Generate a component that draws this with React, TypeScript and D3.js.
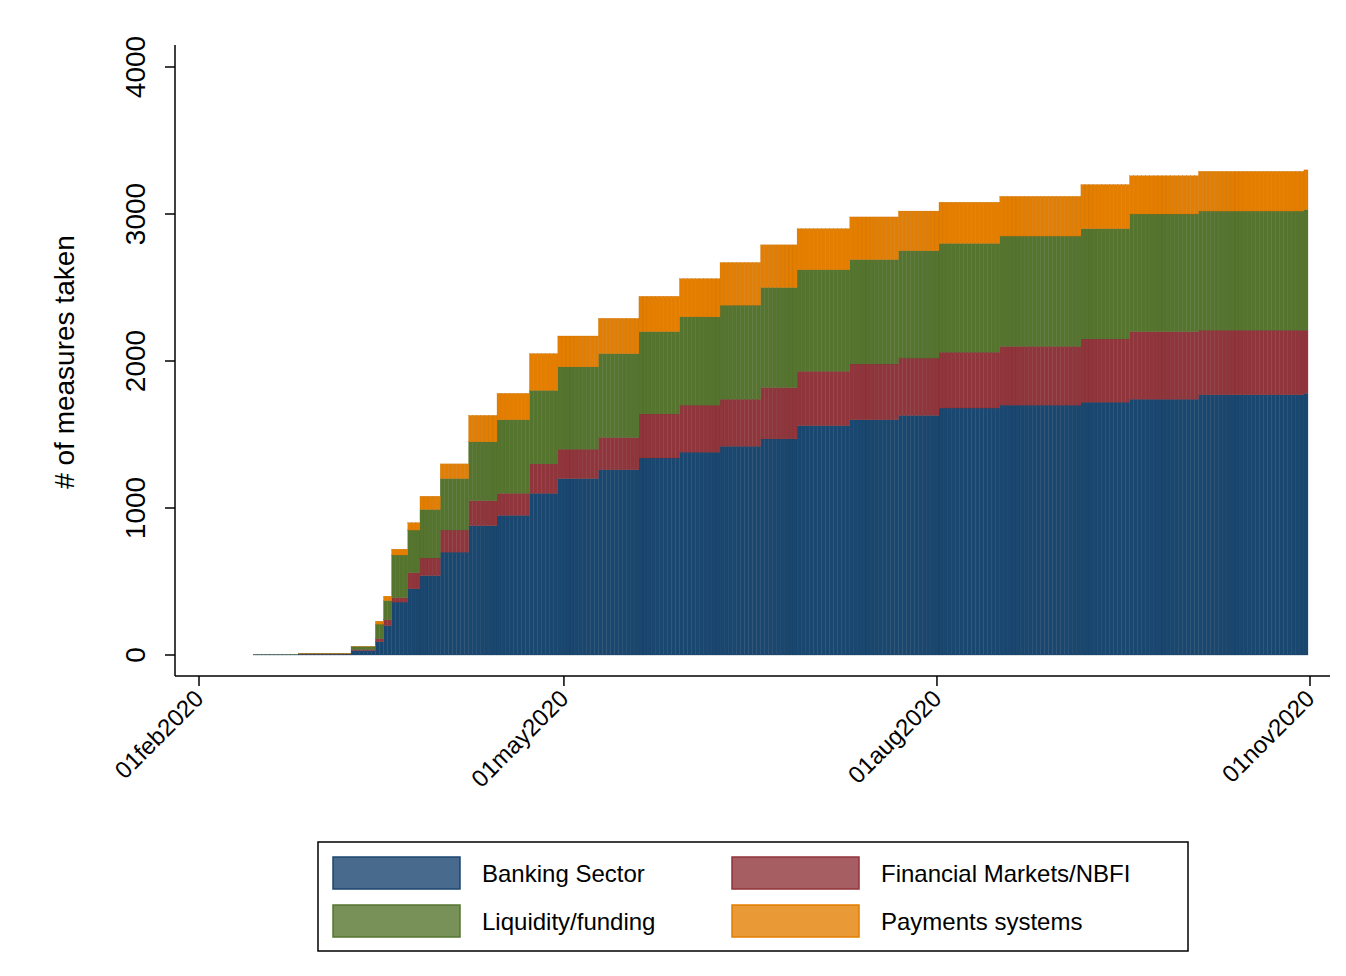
import React from 'react';
import * as d3 from 'd3';

// checkpoint dates: each day's bar takes the latest checkpoint value on or before it
const checkDates = ['2020-02-15', '2020-02-26', '2020-03-10', '2020-03-16', '2020-03-18', '2020-03-20', '2020-03-24', '2020-03-27', '2020-04-01', '2020-04-08', '2020-04-15', '2020-04-23', '2020-04-30', '2020-05-10', '2020-05-20', '2020-05-30', '2020-06-09', '2020-06-19', '2020-06-28', '2020-07-11', '2020-07-23', '2020-08-02', '2020-08-17', '2020-09-06', '2020-09-18', '2020-10-05', '2020-10-31'];
const banking = [2, 6, 30, 90, 200, 360, 450, 540, 700, 880, 950, 1100, 1200, 1260, 1340, 1380, 1420, 1470, 1560, 1600, 1630, 1680, 1700, 1720, 1740, 1770, 1780];
const markets = [0, 1, 8, 20, 40, 30, 110, 120, 150, 170, 150, 200, 200, 220, 300, 320, 320, 350, 370, 380, 390, 380, 400, 430, 460, 440, 430];
const liquidity = [1, 2, 20, 100, 130, 290, 290, 330, 350, 400, 500, 500, 560, 570, 560, 600, 640, 680, 690, 710, 730, 740, 750, 750, 800, 810, 820];
const payments = [0, 1, 2, 20, 30, 40, 50, 90, 100, 180, 180, 250, 210, 240, 240, 260, 290, 290, 280, 290, 270, 280, 270, 300, 260, 270, 270];

const seriesNames = ['Banking Sector', 'Financial Markets/NBFI', 'Liquidity/funding', 'Payments systems'];
const seriesValues = [banking, markets, liquidity, payments];
const colors = ['#1a476f', '#90353b', '#55752f', '#e37e00'];
const legendColors = ['#486a8c', '#a65e62', '#779159', '#e99a36'];
const legendStroke = ['#1a476f', '#90353b', '#55752f', '#e37e00'];
const yTicks = [0, 1000, 2000, 3000, 4000];
const xTicks = ['2020-02-01', '2020-05-01', '2020-08-01', '2020-11-01'];
const xTickLabels = ['01feb2020', '01may2020', '01aug2020', '01nov2020'];

const parse = d3.utcParse('%Y-%m-%d');
const checks = checkDates.map(d => parse(d) as Date);
const days = d3.utcDay.range(parse('2020-02-01') as Date, parse('2020-11-01') as Date);

const rows = days.map(day => {
  const i = d3.bisectRight(checks, day) - 1;
  const row: any = { day };
  seriesNames.forEach((n, k) => { row[n] = i < 0 ? 0 : seriesValues[k][i]; });
  return row;
});

const stacked = d3.stack<any>().keys(seriesNames)(rows);

export default function App() {
  const font = 'Liberation Sans, Arial, sans-serif';
  const x = d3.scaleUtc().domain([parse('2020-02-01') as Date, parse('2020-11-01') as Date]).range([199, 1310]);
  const y = d3.scaleLinear().domain([0, 4000]).range([655, 67]);
  const bw = x(parse('2020-02-02') as Date) - x(parse('2020-02-01') as Date);

  return (
    <svg width={1346} height={976} style={{ position: 'absolute', left: 0, top: 0, background: '#fff' }} fontFamily={font}>
      {stacked.map((s, k) => (
        <g key={k} fill={colors[k]} stroke={d3.color(colors[k])!.darker(0.4).toString()} strokeWidth={0.3}>
          {s.map((d, i) => d[1] > d[0] ? (
            <rect key={i} x={x(d.data.day) - bw / 2} width={bw} y={y(d[1])} height={y(d[0]) - y(d[1])} />
          ) : null)}
        </g>
      ))}
      {/* y axis */}
      <line x1={175} x2={175} y1={45} y2={676} stroke="#000" strokeWidth={1.5} />
      {yTicks.map(t => (
        <g key={t}>
          <line x1={165} x2={175} y1={y(t)} y2={y(t)} stroke="#000" strokeWidth={1.5} />
          <text transform={`translate(145,${y(t)}) rotate(-90)`} textAnchor="middle" fontSize={28}>{t}</text>
        </g>
      ))}
      <text transform="translate(74,362) rotate(-90)" textAnchor="middle" fontSize={28}># of measures taken</text>
      {/* x axis */}
      <line x1={175} x2={1330} y1={676} y2={676} stroke="#000" strokeWidth={1.5} />
      {xTicks.map((t, i) => {
        const px = x(parse(t) as Date);
        return (
          <g key={t}>
            <line x1={px} x2={px} y1={676} y2={686} stroke="#000" strokeWidth={1.5} />
            <text transform={`translate(${px + 6},${700}) rotate(-45)`} textAnchor="end" fontSize={24}>{xTickLabels[i]}</text>
          </g>
        );
      })}
      {/* legend */}
      <rect x={318} y={842} width={870} height={109} fill="#fff" stroke="#000" strokeWidth={1.5} />
      {seriesNames.map((n, k) => {
        const order = [0, 2, 1, 3][k];
        const col = Math.floor(k / 2) === 0 ? (k === 0 ? 0 : 1) : (k === 2 ? 0 : 1);
        const row = k < 2 ? 0 : 1;
        const lx = col === 0 ? 333 : 732;
        const ly = row === 0 ? 857 : 905;
        void order;
        return (
          <g key={n}>
            <rect x={lx} y={ly} width={127} height={32} fill={legendColors[k]} stroke={legendStroke[k]} strokeWidth={1.5} />
            <text x={lx + 149} y={ly + 25} fontSize={24}>{n}</text>
          </g>
        );
      })}
    </svg>
  );
}
